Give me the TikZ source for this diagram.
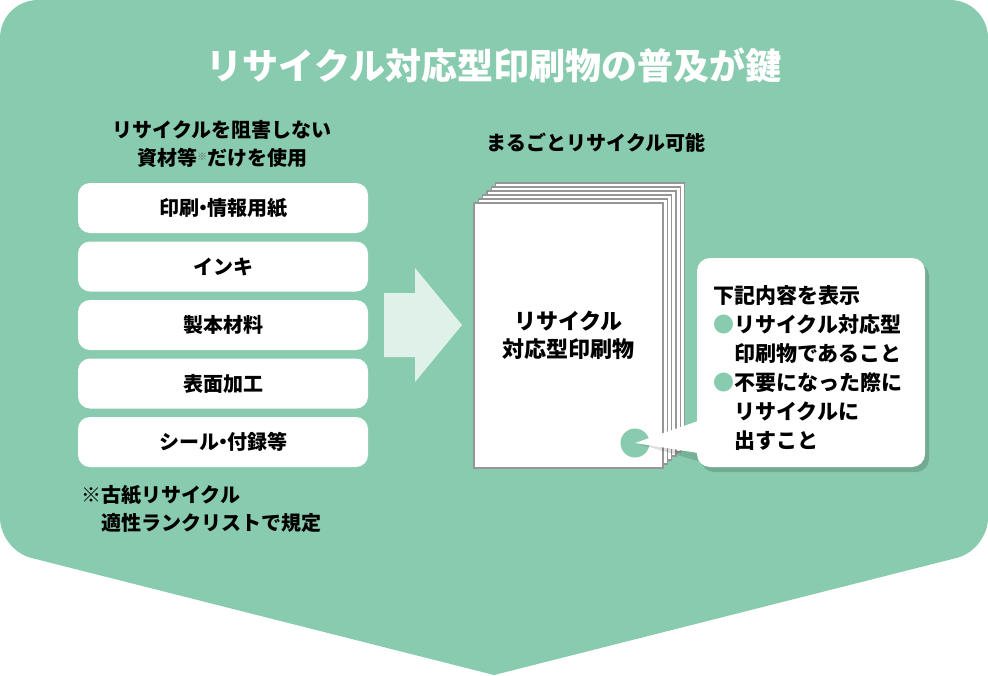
\documentclass[tikz,border=0pt]{standalone}
\usepackage{fontspec}
\setmainfont{Noto Sans CJK JP}
\usepackage{xcolor}
\definecolor{leaf}{RGB}{136,203,174}
\definecolor{leafpale}{RGB}{224,241,234}
\definecolor{edge}{RGB}{150,150,150}
\usetikzlibrary{positioning,calc,shadows}
\tikzstyle{item} = [
    rectangle, rounded corners=12pt,
    fill=white,
    minimum width=290pt,
    minimum height=50pt,
    font=\fontsize{20}{24}\selectfont\bfseries,
]
\tikzstyle{caption} = [
    align=center, inner sep=0pt,
    font=\fontsize{20}{28}\selectfont\bfseries,
]
\tikzstyle{sheet} = [
    rectangle, draw=edge, line width=1.2pt, fill=white,
    minimum width=189pt,
    minimum height=265pt,
]
\tikzstyle{bubble} = [
    rectangle, rounded corners=13pt, fill=white,
    minimum width=228pt,
    minimum height=209pt,
    drop shadow={shadow xshift=4pt, shadow yshift=-5pt, fill=leaf!55!black, opacity=.35},
]
\newcommand{\dotmark}{{\color{leaf}●}}
\newcommand{\nakaguro}{\hspace{-6pt}・\hspace{-6pt}}

\begin{document}
\begin{tikzpicture}[x=1pt, y=-1pt]
    \useasboundingbox (0,0) rectangle (988,675);

    % background
    \fill[leaf] (494,675) [rounded corners=32pt] -- (0,550) [rounded corners=38pt] -- (0,0) -- (988,0)
        [rounded corners=32pt] -- (988,550) [sharp corners] -- cycle;

    \node (title) at (494,65) [text=white, font=\fontsize{36}{40}\selectfont\bfseries] {リサイクル対応型印刷物の普及が鍵};

    % left column
    \node (hinder) at (222,144) [caption] {リサイクルを阻害しない\\資材等\raisebox{5pt}{\fontsize{10}{10}\selectfont\mdseries\color{black!60}※}だけを使用};
    \foreach \t [count=\i] in {印刷\nakaguro 情報用紙, インキ, 製本材料, 表面加工, シール\nakaguro 付録等}
        \node (box\i) at (223, {208+58.5*(\i-1)}) [item] {\t};
    \node (foot) at (81,509) [caption, anchor=west, align=left] {{\mdseries ※}古紙リサイクル\\\phantom{※}適性ランクリストで規定};

    % arrow
    \fill[leafpale] (384,293) -- (415,293) -- (415,268) -- (462,325) -- (415,382) -- (415,357) -- (384,357) -- cycle;

    % stack of sheets
    \node (whole) at (596,143) [caption] {まるごとリサイクル可能};
    \foreach \k in {5,...,0}
        \node (sheet\k) at ({568.5+4.3*\k}, {335.5-4*\k}) [sheet] {};
    \node (label) at (sheet0.center) [caption, font=\fontsize{22}{28}\selectfont\bfseries] {リサイクル\\対応型印刷物};

    % callout
    \node (dot) at (635,443) [circle, fill=leaf, minimum size=29pt, inner sep=0pt] {};
    \coordinate (upper) at (698,421);
    \coordinate (lower) at (698,453);
    \fill[black, opacity=.12] (dot.center) -- ($(upper)+(0,6)$) -- ($(lower)+(0,8)$) -- cycle;
    \fill[white] (dot.center) -- (upper) -- (lower) -- cycle;
    \node (note) at (811,362.5) [bubble] {};
    \node (notetext) at (713,368) [anchor=west, align=left, inner sep=0pt, font=\fontsize{21}{29}\selectfont\bfseries] {下記内容を表示\\
        \dotmark リサイクル対応型\\
        \phantom{●}印刷物であること\\
        \dotmark 不要になった際に\\
        \phantom{●}リサイクルに\\
        \phantom{●}出すこと};
\end{tikzpicture}
\end{document}
